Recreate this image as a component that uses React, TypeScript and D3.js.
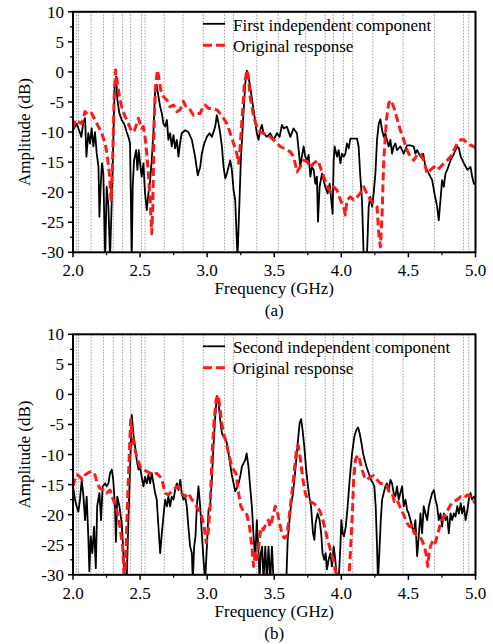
import React from 'react';
import * as d3 from 'd3';

// ---------- data ----------
const markerFreqs: number[] = [2.025, 2.04, 2.135, 2.228, 2.3, 2.37, 2.43, 2.51, 2.537, 2.68, 2.82, 2.97, 3.13, 3.195, 3.37, 3.53, 3.735, 3.88, 3.94, 4.015, 4.085, 4.235, 4.46, 4.695, 4.91, 4.95];
const xMajorTicks: number[] = [2.0, 2.5, 3.0, 3.5, 4.0, 4.5, 5.0];
const xMinorTicks: number[] = [2.25, 2.75, 3.25, 3.75, 4.25, 4.75];
const yMajorTicks: number[] = [10, 5, 0, -5, -10, -15, -20, -25, -30];
const yMinorTicks: number[] = [7.5, 2.5, -2.5, -7.5, -12.5, -17.5, -22.5, -27.5];

const legendA: string[] = ['First independent component', 'Original response'];
const legendB: string[] = ['Second independent component', 'Original response'];

const topBlack: [number, number][] = [[2.0,-9.7],[2.027,-8.6],[2.05,-10],[2.062,-10.8],[2.077,-8.3],[2.09,-7.7],[2.10,-14.1],[2.114,-10.2],[2.127,-11.9],[2.139,-9.4],[2.152,-12.4],[2.164,-10],[2.177,-13.6],[2.19,-15.8],[2.197,-24.1],[2.206,-19.1],[2.216,-15.2],[2.226,-16.9],[2.24,-31],[2.251,-19.1],[2.264,-22.4],[2.276,-31],[2.289,-21.3],[2.30,-11.9],[2.311,-1.9],[2.321,-0.8],[2.331,-4.7],[2.346,-6.9],[2.363,-8],[2.381,-8.6],[2.40,-10],[2.413,-10.8],[2.425,-11.9],[2.438,-31],[2.445,-19.1],[2.455,-14.7],[2.47,-13],[2.48,-16.3],[2.49,-13],[2.5,-15.2],[2.512,-17.4],[2.525,-15.2],[2.537,-20.2],[2.55,-23],[2.562,-20.2],[2.575,-18],[2.587,-14.7],[2.6,-9.7],[2.612,-3],[2.624,-2.2],[2.637,-4.1],[2.65,-5.8],[2.662,-6.9],[2.674,-8.6],[2.687,-9.1],[2.7,-8],[2.711,-11.3],[2.724,-10.2],[2.736,-12.4],[2.749,-10.5],[2.761,-12.7],[2.774,-11.3],[2.786,-14.1],[2.798,-11.9],[2.81,-10.2],[2.836,-9.7],[2.86,-10],[2.886,-11.3],[2.91,-14.1],[2.93,-17.2],[2.948,-15.8],[2.96,-13.6],[2.978,-11.9],[2.998,-10.8],[3.017,-10.2],[3.035,-10.8],[3.047,-10],[3.06,-9.1],[3.072,-7.2],[3.085,-8.6],[3.097,-10.2],[3.11,-12.4],[3.122,-15.8],[3.135,-17.7],[3.147,-16.9],[3.159,-15.8],[3.172,-14.7],[3.184,-16.3],[3.197,-19.7],[3.209,-21.3],[3.226,-31],[3.241,-21.3],[3.251,-14.7],[3.266,-8.6],[3.284,-1.9],[3.296,0.2],[3.308,-0.8],[3.32,-2.4],[3.346,-6.3],[3.37,-10.2],[3.383,-11.3],[3.395,-9.7],[3.408,-8.8],[3.42,-10.2],[3.445,-10.8],[3.47,-10.2],[3.495,-11.3],[3.52,-10.2],[3.54,-10.8],[3.557,-8.8],[3.57,-9.4],[3.594,-9.1],[3.62,-10.8],[3.644,-9.4],[3.669,-10.2],[3.682,-13],[3.694,-15.8],[3.706,-14.1],[3.719,-12.4],[3.731,-14.1],[3.744,-14.7],[3.756,-13.8],[3.769,-17.4],[3.781,-15.8],[3.794,-16.3],[3.806,-18.6],[3.818,-17.4],[3.826,-24.9],[3.838,-19.1],[3.856,-16.9],[3.868,-18],[3.88,-19.1],[3.898,-20.2],[3.913,-18.6],[3.925,-21.3],[3.935,-23.6],[3.943,-14.7],[3.95,-12.4],[3.968,-14.1],[3.98,-13],[3.993,-15.2],[4.005,-13.6],[4.017,-14.1],[4.03,-13.6],[4.042,-11.9],[4.055,-12.7],[4.067,-11.1],[4.092,-11.1],[4.117,-11.1],[4.129,-12.4],[4.14,-16.9],[4.154,-21.3],[4.167,-31],[4.19,-31],[4.204,-22.4],[4.216,-20.8],[4.229,-22.4],[4.241,-20.2],[4.254,-16.9],[4.266,-11.3],[4.279,-8.6],[4.291,-7.9],[4.304,-9.7],[4.316,-10.8],[4.328,-10.2],[4.34,-11.3],[4.353,-12.4],[4.366,-11.3],[4.378,-13.6],[4.39,-12.4],[4.403,-11.9],[4.415,-13],[4.44,-12.4],[4.465,-13.6],[4.49,-12.2],[4.515,-12.2],[4.54,-12.4],[4.552,-13.6],[4.565,-13],[4.59,-14.1],[4.61,-13.6],[4.627,-15.8],[4.652,-16.9],[4.677,-18],[4.694,-20.2],[4.714,-22.4],[4.726,-24.7],[4.739,-21.3],[4.751,-18],[4.764,-19.1],[4.776,-16.9],[4.789,-16.3],[4.814,-14.7],[4.839,-13.6],[4.864,-12.4],[4.876,-12.7],[4.89,-14.1],[4.914,-15.2],[4.94,-16.3],[4.963,-15.8],[4.975,-17.4],[4.988,-18.6],[5.0,-18.6]];

const topRed: [number, number][] = [[2.0,-9.4],[2.015,-8],[2.04,-8.3],[2.065,-8.6],[2.09,-6.6],[2.114,-7.2],[2.14,-6.9],[2.164,-8],[2.19,-9.1],[2.214,-10.2],[2.24,-11.9],[2.256,-14.1],[2.271,-16.9],[2.284,-21.3],[2.294,-15.8],[2.306,-4.7],[2.318,0.3],[2.331,-1.9],[2.346,-4.1],[2.363,-5.8],[2.388,-7.4],[2.413,-8.6],[2.438,-10],[2.458,-9.7],[2.475,-8.6],[2.488,-7.7],[2.5,-8.6],[2.512,-9.4],[2.525,-9.1],[2.537,-10.8],[2.55,-13.6],[2.562,-16.9],[2.575,-21.3],[2.587,-26.9],[2.595,-22.4],[2.605,-8],[2.617,-1.9],[2.63,0.3],[2.642,-1.3],[2.654,-3],[2.674,-4.1],[2.7,-4.7],[2.724,-5.8],[2.749,-5.5],[2.774,-6.6],[2.798,-6.3],[2.823,-4.9],[2.848,-6.1],[2.873,-6.3],[2.898,-7.2],[2.923,-6.9],[2.948,-6.9],[2.968,-5.8],[2.985,-5.5],[3.01,-6.1],[3.047,-6.1],[3.072,-6.3],[3.097,-6.9],[3.122,-7.7],[3.147,-8.6],[3.172,-10.2],[3.197,-11.9],[3.221,-13.6],[3.234,-15.2],[3.246,-12.4],[3.261,-7.4],[3.276,-2.4],[3.29,-0.5],[3.296,0.3],[3.308,-0.8],[3.32,-4.1],[3.346,-7.4],[3.37,-9.1],[3.395,-10],[3.42,-10.2],[3.445,-10.5],[3.47,-10.8],[3.495,-11.3],[3.52,-11.9],[3.545,-12.4],[3.57,-12.7],[3.594,-13],[3.62,-13.3],[3.644,-14.1],[3.67,-16.6],[3.694,-15.8],[3.72,-14.7],[3.744,-14.9],[3.77,-15.8],[3.794,-15.2],[3.826,-14.7],[3.843,-15.8],[3.868,-17.4],[3.893,-18.8],[3.918,-19.9],[3.943,-19.1],[3.968,-19.7],[3.993,-21.3],[4.017,-22.4],[4.03,-23.8],[4.042,-21.3],[4.067,-20.8],[4.092,-21.3],[4.117,-20.8],[4.14,-20.2],[4.167,-19.1],[4.19,-20.2],[4.216,-21.3],[4.241,-21.9],[4.266,-22.4],[4.279,-26.9],[4.291,-29.1],[4.304,-23.6],[4.316,-14.7],[4.336,-8],[4.353,-5.2],[4.37,-4.7],[4.39,-5.8],[4.415,-7.7],[4.44,-9.7],[4.465,-11.3],[4.49,-13],[4.515,-14.1],[4.54,-14.7],[4.565,-13.8],[4.59,-13.6],[4.614,-14.7],[4.64,-16.9],[4.664,-16.3],[4.69,-15.8],[4.714,-16.3],[4.739,-15.8],[4.764,-15.2],[4.789,-14.7],[4.814,-14.1],[4.839,-13],[4.864,-11.9],[4.89,-11.3],[4.914,-11.3],[4.94,-11.9],[4.963,-12.2],[4.988,-12.4],[5.0,-12.7]];

const bottomBlack: [number, number][] = [[2.0,-15.3],[2.015,-17.5],[2.027,-18.6],[2.04,-19.5],[2.052,-17.5],[2.065,-14.2],[2.077,-16.7],[2.09,-20.9],[2.102,-17],[2.114,-23.6],[2.122,-29.4],[2.132,-23.6],[2.144,-26.4],[2.157,-22],[2.17,-28.9],[2.18,-18.6],[2.197,-16.4],[2.209,-20.9],[2.221,-15.3],[2.24,-14.8],[2.251,-15.3],[2.264,-14.8],[2.276,-13.1],[2.289,-12.5],[2.3,-14.2],[2.313,-18.6],[2.32,-24.5],[2.33,-17],[2.346,-18.6],[2.363,-21.4],[2.376,-26.4],[2.388,-31],[2.4,-31],[2.413,-20.9],[2.425,-12.5],[2.438,-3.4],[2.45,-6.5],[2.463,-8.7],[2.475,-10.9],[2.488,-12.5],[2.5,-12],[2.512,-13.7],[2.525,-15.3],[2.537,-13.7],[2.55,-14.8],[2.562,-13.4],[2.575,-14.8],[2.587,-13.1],[2.6,-14.8],[2.612,-16.4],[2.624,-17.5],[2.637,-22],[2.65,-26.4],[2.662,-23.1],[2.674,-20.3],[2.687,-17.5],[2.7,-18.6],[2.711,-17],[2.724,-18.6],[2.736,-17],[2.749,-17.5],[2.761,-15.9],[2.774,-14.8],[2.786,-15.9],[2.8,-14.2],[2.81,-16.4],[2.823,-17.5],[2.836,-17],[2.848,-18.6],[2.86,-22],[2.873,-25.3],[2.886,-26.4],[2.893,-31],[2.903,-25.3],[2.913,-23.6],[2.923,-18.6],[2.935,-15.3],[2.948,-18.6],[2.96,-23.1],[2.973,-27.5],[2.985,-31],[2.998,-25.3],[3.01,-19.2],[3.022,-18.6],[3.035,-14.2],[3.047,-8.7],[3.06,-3.7],[3.072,-0.25],[3.085,-1.5],[3.097,-4.2],[3.11,-6.5],[3.122,-7],[3.135,-7.3],[3.147,-8.1],[3.159,-9.8],[3.17,-11.4],[3.184,-13.4],[3.197,-14.8],[3.209,-16.1],[3.221,-15.6],[3.234,-14.8],[3.246,-13.7],[3.259,-12],[3.284,-10.9],[3.294,-9.8],[3.308,-12],[3.32,-15.3],[3.333,-18.6],[3.346,-23.6],[3.358,-27.5],[3.37,-20.9],[3.383,-26.4],[3.39,-31],[3.4,-26.4],[3.41,-25.3],[3.42,-31],[3.433,-25.3],[3.445,-31],[3.457,-25.3],[3.47,-31],[3.483,-25.3],[3.495,-31],[3.52,-31],[3.59,-31],[3.6,-24.2],[3.614,-20.9],[3.624,-18.6],[3.64,-16.4],[3.65,-14.2],[3.664,-10.9],[3.677,-7.6],[3.689,-4.8],[3.7,-4.1],[3.711,-5.9],[3.724,-8.7],[3.736,-12],[3.749,-14.8],[3.761,-17],[3.774,-18.6],[3.789,-23.1],[3.799,-24.2],[3.808,-21.4],[3.823,-19.8],[3.838,-20.9],[3.85,-23.1],[3.86,-26.4],[3.873,-27.5],[3.883,-26.4],[3.893,-29.1],[3.905,-27.5],[3.918,-26.4],[3.93,-28.6],[3.943,-25.3],[3.955,-27.5],[3.968,-31],[3.98,-31],[3.993,-25.3],[4.0,-20.9],[4.01,-23.1],[4.02,-23.6],[4.033,-22],[4.047,-18.6],[4.062,-14.2],[4.08,-9.8],[4.097,-7],[4.112,-5.9],[4.125,-5.5],[4.137,-6.5],[4.15,-8.1],[4.162,-9.8],[4.174,-10.9],[4.187,-12],[4.204,-13.1],[4.221,-14.2],[4.236,-14.8],[4.246,-15.3],[4.256,-18.6],[4.266,-25.3],[4.273,-31],[4.283,-26.4],[4.294,-20.9],[4.304,-17.5],[4.316,-16.4],[4.328,-15.3],[4.34,-14.8],[4.353,-15.9],[4.366,-14.2],[4.378,-14.8],[4.39,-16.4],[4.403,-17],[4.415,-15.3],[4.428,-17.5],[4.44,-16.4],[4.453,-15.3],[4.465,-18.6],[4.478,-17.5],[4.49,-19.2],[4.502,-19.8],[4.515,-20.9],[4.527,-22],[4.54,-23.1],[4.552,-20.9],[4.565,-26.9],[4.577,-23.6],[4.59,-19.8],[4.602,-23.1],[4.614,-18.6],[4.627,-19.8],[4.64,-20.9],[4.652,-18.6],[4.664,-17.5],[4.677,-16.4],[4.69,-15.9],[4.702,-17.5],[4.714,-18.6],[4.726,-20.9],[4.739,-19.8],[4.751,-22],[4.764,-19.8],[4.776,-20.9],[4.789,-20.3],[4.801,-23.1],[4.814,-19.8],[4.826,-20.9],[4.839,-19.8],[4.851,-20.3],[4.864,-18.6],[4.876,-19.8],[4.89,-18.1],[4.9,-19.8],[4.914,-18.6],[4.926,-20.9],[4.94,-19.2],[4.95,-17.5],[4.963,-16.4],[4.975,-17.5],[4.988,-17],[5.0,-17.5]];

const bottomRed: [number, number][] = [[2.0,-15.3],[2.015,-13.9],[2.032,-13.4],[2.052,-13.7],[2.07,-14.2],[2.09,-13.4],[2.114,-13],[2.14,-12.8],[2.164,-13.4],[2.18,-14.8],[2.2,-15.6],[2.226,-15.9],[2.25,-16.4],[2.276,-15.9],[2.3,-17.5],[2.326,-19.2],[2.35,-22],[2.37,-25.3],[2.383,-31],[2.395,-26.4],[2.405,-18.6],[2.418,-10.9],[2.43,-4.2],[2.443,-6.5],[2.455,-8.7],[2.475,-10.3],[2.5,-12],[2.525,-12.5],[2.55,-12.8],[2.575,-13.1],[2.6,-13.4],[2.624,-13.1],[2.65,-13.7],[2.67,-14.8],[2.687,-16.4],[2.711,-16.7],[2.736,-16.1],[2.76,-15.6],[2.786,-15.3],[2.81,-16.4],[2.836,-17],[2.86,-16.4],[2.886,-17.5],[2.91,-18.1],[2.935,-19.2],[2.96,-20.3],[2.978,-22],[2.993,-24.7],[3.007,-23.1],[3.022,-18.6],[3.037,-9.8],[3.052,-4.2],[3.067,-0.9],[3.08,-0.1],[3.092,-1.5],[3.105,-4.2],[3.122,-6.5],[3.142,-8.1],[3.16,-9.8],[3.177,-11.4],[3.197,-12.5],[3.214,-13.1],[3.234,-16.4],[3.251,-18.6],[3.271,-19.5],[3.296,-20],[3.316,-22],[3.333,-25.3],[3.346,-28.6],[3.358,-26.4],[3.37,-27.5],[3.383,-25.3],[3.395,-23.1],[3.408,-22],[3.42,-22.5],[3.44,-21.4],[3.457,-20.9],[3.47,-22],[3.49,-20.3],[3.507,-18.6],[3.52,-19.2],[3.54,-21.4],[3.557,-23.1],[3.575,-23.9],[3.594,-23.6],[3.614,-19.8],[3.632,-16.4],[3.65,-12.5],[3.664,-9.5],[3.677,-8.4],[3.689,-9.8],[3.702,-12],[3.714,-14.2],[3.731,-16.4],[3.749,-17.5],[3.769,-17.8],[3.794,-18.1],[3.818,-18.6],[3.843,-19.5],[3.863,-20.9],[3.88,-22.5],[3.898,-24.2],[3.918,-25.8],[3.938,-27.5],[3.955,-29.1],[3.973,-31],[4.056,-31],[4.067,-26.4],[4.08,-20.9],[4.092,-14.2],[4.105,-10.9],[4.122,-10.1],[4.137,-10.9],[4.154,-12.5],[4.172,-13.7],[4.19,-14.2],[4.216,-13.7],[4.241,-13.5],[4.266,-14.2],[4.291,-14.8],[4.316,-14.8],[4.34,-15.3],[4.36,-16.4],[4.378,-16.4],[4.395,-17.8],[4.415,-17.5],[4.435,-18.6],[4.453,-19.5],[4.47,-20.3],[4.49,-21.4],[4.51,-22],[4.527,-21.7],[4.545,-23.1],[4.565,-23.4],[4.585,-23.6],[4.6,-24.2],[4.62,-25.3],[4.634,-26.9],[4.644,-28.6],[4.654,-26.4],[4.664,-25.3],[4.684,-24.2],[4.7,-24.7],[4.72,-23.1],[4.739,-21.4],[4.759,-20.6],[4.776,-19.8],[4.794,-19.2],[4.814,-18.4],[4.839,-17.8],[4.864,-17.5],[4.89,-17],[4.914,-17.2],[4.94,-16.7],[4.963,-17],[4.988,-17.8],[5.0,-18.1]];

// ---------- layout ----------
const W = 493;
const H = 644;
const LEFT = 73;
const RIGHT = 475.5;
const PH = 240.5;
const FONT = 'Liberation Serif, DejaVu Serif, serif';
const FS = 17;

type PanelProps = {
  id: string;
  top: number;
  black: [number, number][];
  red: [number, number][];
  legend: string[];
  caption: string;
};

function Panel({ id, top, black, red, legend, caption }: PanelProps) {
  const x = d3.scaleLinear().domain([2, 5]).range([LEFT, RIGHT]);
  const y = d3.scaleLinear().domain([-30, 10]).range([top + PH, top]);
  const line = d3.line<[number, number]>().x(d => x(d[0])).y(d => y(d[1]));
  const bottom = top + PH;
  const cx = (LEFT + RIGHT) / 2;
  const txt = { fontFamily: FONT, fontSize: FS, fill: '#000' } as const;
  return (
    <g>
      <defs>
        <clipPath id={`clip-${id}`}>
          <rect x={LEFT} y={top} width={RIGHT - LEFT} height={PH} />
        </clipPath>
      </defs>
      {markerFreqs.map((f, i) => (
        <line key={`g${i}`} x1={x(f)} x2={x(f)} y1={top} y2={bottom}
          stroke="#9a9a9a" strokeWidth={1} strokeDasharray="1.5,1.5" />
      ))}
      <g clipPath={`url(#clip-${id})`}>
        <path d={line(black) || ''} fill="none" stroke="#000" strokeWidth={1.8} strokeLinejoin="round" />
        <path d={line(red) || ''} fill="none" stroke="#ff1a1a" strokeWidth={3} strokeDasharray="8,4" strokeLinejoin="round" />
      </g>
      <rect x={LEFT} y={top} width={RIGHT - LEFT} height={PH} fill="none" stroke="#000" strokeWidth={2} />
      {yMajorTicks.map(v => (
        <g key={`ym${v}`}>
          <line x1={LEFT - 5} x2={LEFT} y1={y(v)} y2={y(v)} stroke="#000" strokeWidth={1.5} />
          <text x={LEFT - 9} y={y(v)} dy="0.35em" textAnchor="end" style={txt}>{v}</text>
        </g>
      ))}
      {yMinorTicks.map(v => (
        <line key={`yn${v}`} x1={LEFT - 3} x2={LEFT} y1={y(v)} y2={y(v)} stroke="#000" strokeWidth={1.2} />
      ))}
      {xMajorTicks.map(v => (
        <g key={`xm${v}`}>
          <line x1={x(v)} x2={x(v)} y1={bottom} y2={bottom + 5} stroke="#000" strokeWidth={1.5} />
          <text x={x(v)} y={bottom + 24} textAnchor="middle" style={txt}>{v.toFixed(1)}</text>
        </g>
      ))}
      {xMinorTicks.map(v => (
        <line key={`xn${v}`} x1={x(v)} x2={x(v)} y1={bottom} y2={bottom + 3} stroke="#000" strokeWidth={1.2} />
      ))}
      <text x={cx} y={bottom + 42} textAnchor="middle" style={txt}>Frequency (GHz)</text>
      <text x={cx} y={bottom + 64} textAnchor="middle" style={txt}>{caption}</text>
      <text transform={`translate(30,${top + PH / 2}) rotate(-90)`} textAnchor="middle" style={txt}>Amplitude (dB)</text>
      <line x1={203} x2={225} y1={top + 12} y2={top + 12} stroke="#000" strokeWidth={1.8} />
      <text x={233} y={top + 19} style={txt}>{legend[0]}</text>
      <line x1={203} x2={225} y1={top + 33.5} y2={top + 33.5} stroke="#ff1a1a" strokeWidth={3} strokeDasharray="9,4" />
      <text x={233} y={top + 40} style={txt}>{legend[1]}</text>
    </g>
  );
}

export default function App() {
  return (
    <div style={{ position: 'absolute', left: 0, top: 0, width: W, height: H, background: '#fff' }}>
      <svg width={W} height={H} viewBox={`0 0 ${W} ${H}`} style={{ display: 'block' }}>
        <rect width={W} height={H} fill="#fff" />
        <Panel id="a" top={11.8} black={topBlack} red={topRed} legend={legendA} caption="(a)" />
        <Panel id="b" top={334.3} black={bottomBlack} red={bottomRed} legend={legendB} caption="(b)" />
      </svg>
    </div>
  );
}
